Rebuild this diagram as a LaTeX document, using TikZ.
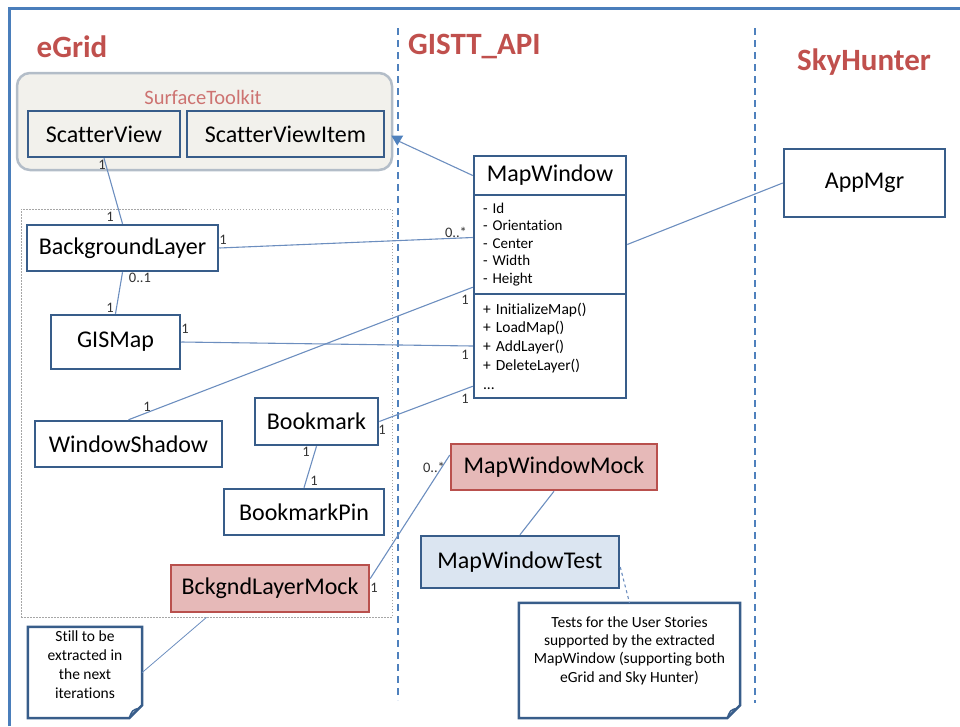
\documentclass[tikz,border=0pt]{standalone}
\usepackage{fontspec}
\setmainfont{Carlito}[Ligatures=NoCommon]
\usetikzlibrary{calc,arrows.meta}
\definecolor{frameblue}{HTML}{4A7EBB}
\definecolor{sepblue}{HTML}{4F81BD}
\definecolor{boxblue}{HTML}{385D8A}
\definecolor{linecol}{HTML}{6C8EBF}
\definecolor{mockfill}{HTML}{E6B9B8}
\definecolor{mockred}{HTML}{B9504D}
\definecolor{testfill}{HTML}{DBE5F1}
\definecolor{stfill}{HTML}{F2F1EC}
\definecolor{stborder}{HTML}{B3BDC8}
\definecolor{titlered}{HTML}{C0504D}
\tikzset{
  cls/.style={draw=boxblue, line width=2.5pt, fill=white, inner sep=0pt, text=black,
    font=\fontsize{24}{28}\selectfont},
  stcls/.style={cls, fill=stfill},
  mockcls/.style={cls, draw=mockred, fill=mockfill},
  testcls/.style={cls, fill=testfill},
  conn/.style={draw=linecol, line width=1.1pt},
  mult/.style={font=\fontsize{14.5}{14.5}\selectfont, inner sep=0pt, text=black!80},
  ttl/.style={font=\fontsize{31}{31}\selectfont\bfseries, text=titlered, inner sep=0pt},
  sep/.style={draw=sepblue, line width=1.5pt, dash pattern=on 7pt off 5pt},
  notebox/.style={draw=boxblue, line width=2.5pt, fill=white},
  notetext/.style={inner sep=0pt, align=center, text=black,
    font=\fontsize{15.5}{19}\selectfont},
}
\begin{document}
\begin{tikzpicture}[x=1pt,y=-1pt]
\useasboundingbox (0,0) rectangle (960,726);
% frame
\draw[frameblue, line width=3pt] (9,726) -- (9,8) -- (960,8);
% separators
\draw[sep] (398,28) -- (398,700);
\draw[sep] (755,28) -- (755,703);
% titles
\node[ttl] (tE) at (72,47) {eGrid};
\node[ttl, anchor=west] (tG) at (408,46) {GISTT\_API};
\node[ttl] (tS) at (864,62) {SkyHunter};
% SurfaceToolkit
\node[draw=stborder, fill=stfill, line width=2.5pt, rounded corners=13pt,
  minimum width=375, minimum height=97] (st) at (204.5,121.5) {};
\node[inner sep=0pt, text=titlered!80, font=\fontsize{20.5}{22}\selectfont] (stl) at (203,97) {SurfaceToolkit};
\node[stcls, minimum width=152, minimum height=46] (sv) at (104,134) {ScatterView};
\node[stcls, minimum width=197, minimum height=46] (svi) at (285.5,134) {ScatterViewItem};
% group
\node[draw=black!35, line width=0.7pt, dash pattern=on 1.5pt off 1.5pt,
  minimum width=371, minimum height=408] (grp) at (206.5,413) {};
% eGrid classes
\node[cls, minimum width=191, minimum height=46] (bl) at (122.5,248) {BackgroundLayer};
\node[cls, minimum width=129, minimum height=54] (gm) at (115.5,342) {GISMap};
\node[cls, minimum width=187, minimum height=46] (ws) at (128.5,444) {WindowShadow};
\node[cls, minimum width=123, minimum height=47] (bm) at (316.5,421.5) {Bookmark};
\node[cls, minimum width=160, minimum height=46] (bp) at (304,512) {BookmarkPin};
\node[mockcls, minimum width=198, minimum height=47] (blm) at (270,588.5) {BckgndLayerMock};
% MapWindow
\node[cls, minimum width=152, minimum height=39] (mwt) at (550,175.5) {MapWindow};
\node[cls, minimum width=152, minimum height=99, text width=134, align=left,
  font=\fontsize{15}{17.5}\selectfont] (mwa) at (550,244.5)
  {- Id\\- Orientation\\- Center\\- Width\\- Height};
\node[cls, minimum width=152, minimum height=104, text width=134, align=left,
  font=\fontsize{15.5}{18.75}\selectfont] (mwm) at (550,346)
  {+ InitializeMap()\\+ LoadMap()\\+ AddLayer()\\+ DeleteLayer()\\...};
\node[mockcls, minimum width=206, minimum height=46] (mock) at (554,467) {MapWindowMock};
\node[testcls, minimum width=198, minimum height=52] (test) at (520,562) {MapWindowTest};
% SkyHunter
\node[cls, minimum width=161, minimum height=68] (am) at (864.5,183) {AppMgr};
% notes
\node[minimum width=114, minimum height=91, inner sep=0pt] (n1) at (85,672.5) {};
\draw[notebox] (n1.north west) -- (n1.north east) -- ([yshift=13pt]n1.south east)
  -- ([xshift=-13pt]n1.south east) -- (n1.south west) -- cycle;
\draw[boxblue, line width=1.5pt] ([xshift=-13pt]n1.south east) .. controls ([xshift=-10pt,yshift=8pt]n1.south east) .. ([xshift=-3pt,yshift=10pt]n1.south east) -- ([yshift=13pt]n1.south east);
\node[notetext] (n1t) at (85,664.5) {Still to be\\extracted in\\the next\\iterations};
\node[minimum width=221, minimum height=115, inner sep=0pt] (n2) at (629.5,660.5) {};
\draw[notebox] (n2.north west) -- (n2.north east) -- ([yshift=13pt]n2.south east)
  -- ([xshift=-13pt]n2.south east) -- (n2.south west) -- cycle;
\draw[boxblue, line width=1.5pt] ([xshift=-13pt]n2.south east) .. controls ([xshift=-10pt,yshift=8pt]n2.south east) .. ([xshift=-3pt,yshift=10pt]n2.south east) -- ([yshift=13pt]n2.south east);
\node[notetext, font=\fontsize{15.5}{18.3}\selectfont] (n2t) at (629.5,650.5)
  {Tests for the User Stories\\supported by the extracted\\MapWindow (supporting both\\eGrid and Sky Hunter)};
% connectors
\coordinate (stend) at ([xshift=4pt,yshift=-19pt]st.east);
\draw[conn] (mwt.west) -- (stend);
\fill[sepblue] ([xshift=-6pt,yshift=5pt]stend) -- ([xshift=6pt,yshift=5pt]stend) -- ([yshift=-5pt]stend) -- cycle;
\draw[conn] (sv.south) -- (bl.north);
\draw[conn] (bl.east) -- ([yshift=7pt]mwa.west);
\draw[conn] (bl.south) -- (gm.north);
\draw[conn] (gm.east) -- (mwm.west);
\draw[conn] (ws.north) -- ([yshift=8pt]mwa.south west);
\draw[conn] (bm.east) -- ([yshift=13pt]mwm.south west);
\draw[conn] (bm.south) -- (bp.north);
\draw[conn] (mwa.east) -- (am.west);
\draw[conn] ([yshift=10pt]blm.east) -- ([yshift=12pt]mock.west);
\draw[conn] (mock.south) -- (test.north);
\draw[conn, dashed] ([yshift=-5pt]test.east) -- (n2.north);
\draw[conn, line width=0.8pt] (n1.east) -- (grp.south);
% multiplicities
\node[mult] (m1) at (102,165) {1};
\node[mult] (m2) at (110,217) {1};
\node[mult] (m3) at (223,240) {1};
\node[mult] (m4) at (456,232) {0..*};
\node[mult] (m5) at (140,278) {0..1};
\node[mult] (m6) at (110,308) {1};
\node[mult] (m7) at (185,329) {1};
\node[mult] (m8) at (465,355) {1};
\node[mult] (m9) at (465,300) {1};
\node[mult] (m10) at (147,407) {1};
\node[mult] (m11) at (465,399) {1};
\node[mult] (m12) at (382,430) {1};
\node[mult] (m13) at (306,452) {1};
\node[mult] (m14) at (314,481) {1};
\node[mult] (m15) at (374,588) {1};
\node[mult] (m16) at (434,467) {0..*};
\end{tikzpicture}
\end{document}
